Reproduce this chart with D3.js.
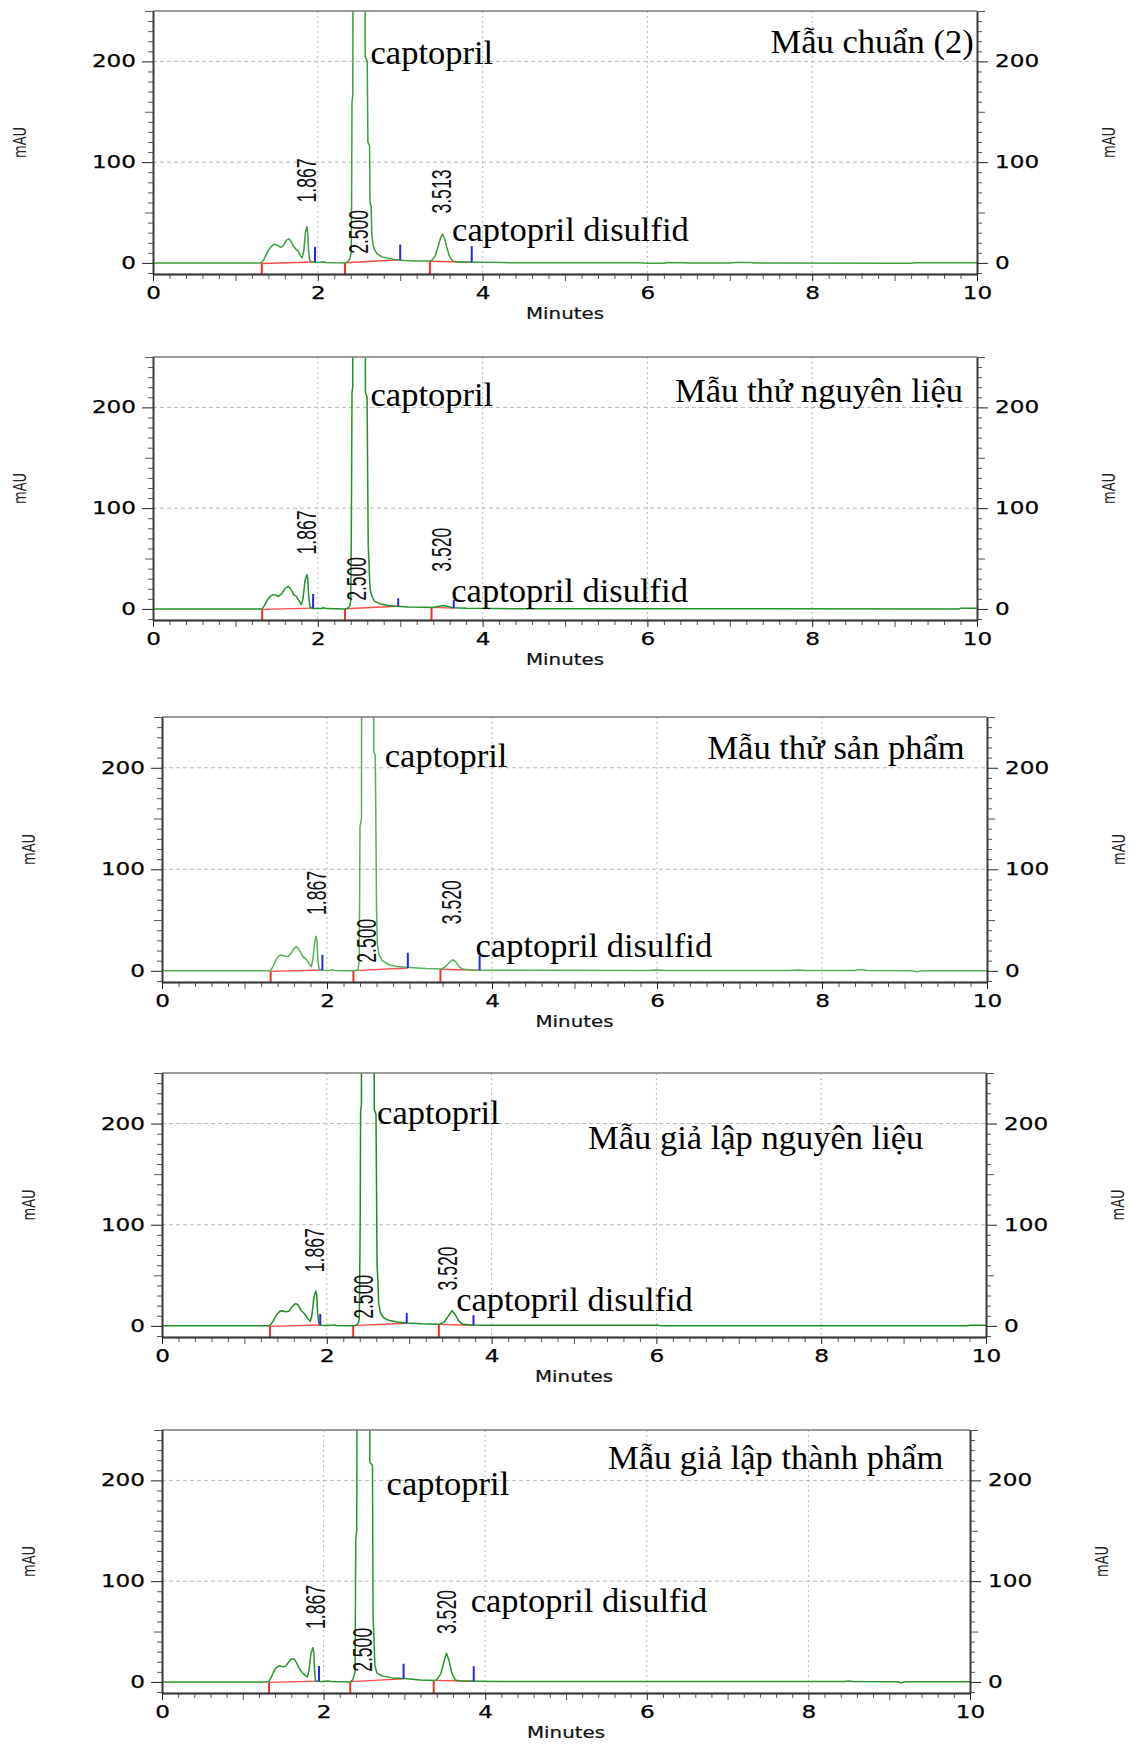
<!DOCTYPE html>
<html>
<head>
<meta charset="utf-8">
<script src="https://cdn.jsdelivr.net/npm/d3@7"></script>
<style>
  body { margin: 0; background: #fff; }
  svg { display: block; }
</style>
</head>
<body>
<svg id="chart" width="1133" height="1745"></svg>
<script>
// ---- data -------------------------------------------------------------
const minuteTicks = [0, 2, 4, 6, 8, 10];
const mauTicks = [0, 100, 200];
const panelTitles = [
  "Mẫu chuẩn (2)",
  "Mẫu thử nguyên liệu",
  "Mẫu thử sản phẩm",
  "Mẫu giả lập nguyên liệu",
  "Mẫu giả lập thành phẩm"
];
const compoundNames = ["captopril", "captopril disulfid"];
const retentionLabels = [
  ["1.867", "2.500", "3.513"],
  ["1.867", "2.500", "3.520"],
  ["1.867", "2.500", "3.520"],
  ["1.867", "2.500", "3.520"],
  ["1.867", "2.500", "3.520"]
];

// chromatogram traces: [minutes, mAU]
const traceStandard = [[0,0],[1.30,0],[1.32,0.5],[1.35,4],[1.39,11],[1.43,16],[1.47,18.5],[1.51,17.5],[1.55,15.5],[1.58,17],[1.62,22.5],[1.645,24],[1.67,22],[1.70,17],[1.73,14],[1.76,12],[1.79,7],[1.81,5],[1.83,12],[1.85,30],[1.867,36],[1.878,30],[1.888,12],[1.90,3],[1.925,0.8],[1.97,0.4],[2.03,0.6],[2.06,1.2],[2.10,0.4],[2.20,0.1],[2.33,0],[2.36,1],[2.39,4],[2.405,10],[2.41,60],[2.415,160],[2.425,166],[2.432,700],[2.500,1400],[2.568,700],[2.575,205],[2.600,200],[2.608,120],[2.628,116],[2.634,60],[2.648,56],[2.655,30],[2.67,18],[2.69,13],[2.72,9],[2.78,6],[2.86,4.5],[2.95,3.2],[3.05,2.5],[3.20,2],[3.33,1.8],[3.38,2.2],[3.42,6],[3.46,16],[3.49,25],[3.513,28.5],[3.54,24],[3.57,14],[3.60,6],[3.64,2],[3.70,1],[3.85,0.8],[4.0,0.6],[4.25,0.5],[4.3,0.2],[5.9,0.1],[6.0,-0.3],[6.2,-0.3],[6.25,0.3],[6.45,0.2],[6.5,-0.2],[7.0,-0.2],[7.05,0.4],[7.25,0.3],[7.3,-0.2],[9.2,-0.3],[9.25,0.2],[10,0.2]];
const traceRawSample = [[0,0],[1.30,0],[1.325,0.3],[1.35,3],[1.39,9],[1.43,13],[1.458,14.2],[1.49,13.5],[1.52,12.5],[1.56,15],[1.60,20],[1.64,22.4],[1.67,20],[1.71,14],[1.74,12.5],[1.78,7],[1.80,4.3],[1.82,10],[1.845,28],[1.867,34],[1.878,30],[1.89,12],[1.905,2],[1.93,0.5],[1.99,0.3],[2.04,0.5],[2.07,1.1],[2.11,0.3],[2.33,0],[2.37,1],[2.388,3],[2.40,8],[2.408,90],[2.415,215],[2.424,220],[2.432,700],[2.500,1400],[2.572,700],[2.578,215],[2.598,210],[2.612,62],[2.62,49],[2.628,30],[2.636,19],[2.66,12],[2.69,7.6],[2.75,5.2],[2.85,3.4],[2.95,2.6],[3.10,2],[3.30,1.6],[3.40,1.5],[3.46,2.3],[3.520,3.4],[3.58,2.4],[3.65,1.1],[3.80,0.7],[4.2,0.5],[4.3,0.2],[9.78,0],[9.80,0.6],[10,0.6]];
const traceProductSample = [[0,0],[1.30,0],[1.317,0.4],[1.35,5],[1.39,12],[1.42,15],[1.447,15.5],[1.49,14.5],[1.53,14],[1.57,18],[1.60,22],[1.63,23.8],[1.66,21],[1.71,14],[1.75,11],[1.79,6],[1.81,4],[1.83,12],[1.85,28],[1.867,34],[1.878,30],[1.89,10],[1.905,2],[1.93,0.5],[2.0,0.3],[2.05,0.6],[2.07,1.2],[2.10,0.4],[2.20,0.1],[2.32,0],[2.36,0.5],[2.376,1.5],[2.39,10],[2.396,80],[2.40,142],[2.418,150],[2.425,700],[2.500,1400],[2.562,700],[2.566,216],[2.585,212],[2.592,150],[2.60,63],[2.61,27],[2.63,16],[2.67,10],[2.75,6],[2.85,4.2],[3.0,3.2],[3.2,2.2],[3.375,1.8],[3.42,3],[3.47,7],[3.520,11],[3.56,9],[3.60,4],[3.65,1.5],[3.75,0.8],[4.0,0.6],[4.4,0.5],[5.9,0.4],[6.0,0.9],[6.1,0.4],[7.6,0.3],[7.7,0.8],[7.8,0.3],[8.4,0.3],[8.46,1.3],[8.55,0.3],[9.08,0.2],[9.15,-0.8],[9.22,0.2],[10,0.2]];
const traceSimRaw = [[0,0],[1.30,0],[1.31,0.3],[1.35,5],[1.39,11],[1.43,14.5],[1.46,15],[1.50,14],[1.54,14.5],[1.58,19],[1.62,22],[1.65,21],[1.69,15],[1.73,12],[1.77,7],[1.80,4.5],[1.82,11],[1.845,29],[1.867,34.5],[1.878,30],[1.89,11],[1.905,2],[1.93,0.5],[2.0,0.3],[2.05,0.5],[2.08,1],[2.12,0.3],[2.32,0],[2.36,1],[2.385,3],[2.395,8],[2.405,100],[2.41,212],[2.42,218],[2.43,700],[2.500,1400],[2.57,700],[2.576,214],[2.597,209],[2.61,60],[2.62,45],[2.63,22],[2.65,13],[2.69,8],[2.75,5.5],[2.85,3.8],[2.97,2.8],[3.15,2],[3.36,1.5],[3.42,3.5],[3.47,9],[3.520,15],[3.56,11],[3.60,5],[3.65,1.5],[3.75,0.8],[4.0,0.6],[5.5,0.5],[6.03,0.5],[6.06,0],[9.78,0],[9.80,0.6],[10,0.6]];
const traceSimProduct = [[0,0],[1.30,0],[1.324,0.4],[1.36,6],[1.40,13],[1.448,16],[1.50,15],[1.53,15.5],[1.57,20],[1.60,23],[1.64,22.5],[1.67,18],[1.70,13],[1.74,9],[1.78,6],[1.80,5],[1.82,12],[1.845,29],[1.867,34],[1.88,28],[1.89,8],[1.90,1],[1.93,0.4],[2.0,0.3],[2.05,0.8],[2.10,0.3],[2.33,0],[2.36,2],[2.375,6],[2.39,10],[2.398,142],[2.41,150],[2.425,700],[2.500,1400],[2.566,700],[2.572,218],[2.605,215],[2.612,65],[2.625,40],[2.635,16],[2.66,9],[2.72,6],[2.85,4],[3.0,3.3],[3.2,2],[3.363,1.5],[3.40,2],[3.45,8],[3.49,20],[3.520,28.5],[3.55,22],[3.59,8],[3.63,2],[3.70,0.8],[3.9,0.6],[4.2,0.5],[4.3,0.3],[8.45,0.3],[8.5,0.9],[8.55,0.3],[9.1,0.2],[9.15,-0.8],[9.2,0.2],[10,0.2]];
const traces = [traceStandard, traceRawSample, traceProductSample, traceSimRaw, traceSimProduct];

// integration baselines: [start min, start mAU, end min, end mAU]
const baselinesStandard = [[1.320,-0.6,1.966,0.9],[2.330,0.2,3.000,3.2],[3.360,1.7,3.868,0.6]];
const baselinesRawSample = [[1.325,-0.5,1.943,0.8],[2.330,0.2,2.976,2.6],[3.380,1.5,3.650,0.8]];
const baselinesProductSample = [[1.317,-0.5,1.944,0.8],[2.320,0.2,2.980,2.8],[3.375,1.6,3.850,0.6]];
const baselinesSimRaw = [[1.310,-0.5,1.920,0.8],[2.320,0.2,2.970,2.6],[3.360,1.5,3.780,0.6]];
const baselinesSimProduct = [[1.324,-0.5,1.943,0.8],[2.330,0.3,2.990,3.0],[3.363,1.5,3.858,0.6]];
const baselines = [baselinesStandard, baselinesRawSample, baselinesProductSample, baselinesSimRaw, baselinesSimProduct];

// ---- layout -----------------------------------------------------------
const layout = [
  { left: 153, right: 977, top: 11,   bottom: 274,  stroke: "#3c9f3c", endTick: [15, 15, 16],
    captopril: [2.64, 197.5], title: [9.96, 208], disulfid: [3.63, 22],
    rt: [[1.866, 60], [2.49, 9], [3.50, 49]] },
  { left: 153, right: 977, top: 357,  bottom: 620,  stroke: "#22922a", endTick: [14, 8, 8],
    captopril: [2.64, 201], title: [9.83, 205], disulfid: [3.62, 7],
    rt: [[1.867, 54], [2.47, 8], [3.50, 37]] },
  { left: 162, right: 987, top: 717,  bottom: 982,  stroke: "#56b256", endTick: [15, 15, 14],
    captopril: [2.70, 201], title: [9.73, 209], disulfid: [3.80, 14],
    rt: [[1.87, 55], [2.48, 8], [3.51, 46]] },
  { left: 162, right: 986, top: 1073, bottom: 1337, stroke: "#1e8c24", endTick: [11, 10, 10],
    captopril: [2.61, 200], title: [9.24, 175], disulfid: [3.57, 15],
    rt: [[1.85, 53], [2.445, 7], [3.47, 35]] },
  { left: 162, right: 970, top: 1430, bottom: 1693, stroke: "#2c962c", endTick: [15, 15, 15],
    captopril: [2.78, 185], title: [9.67, 211], disulfid: [3.82, 69.5],
    rt: [[1.90, 52.5], [2.48, 10], [3.52, 47.5]] }
];

const axisFont = "'DejaVu Sans', Verdana, sans-serif";
const serifFont = "'Liberation Serif', 'Times New Roman', serif";
const svg = d3.select("#chart");
const defs = svg.append("defs");

// widen tick labels the way the instrument printout renders them
function widen(sel, factor) {
  sel.selectAll("text").each(function () {
    const w = this.getComputedTextLength();
    d3.select(this).attr("textLength", w * factor).attr("lengthAdjust", "spacingAndGlyphs");
  });
}

function styleAxis(g) {
  g.select(".domain").attr("stroke", "#3a3a3a").attr("stroke-width", 1.4);
  g.selectAll(".tick line").attr("stroke", "#555").attr("stroke-width", 1);
  g.selectAll(".tick text")
    .attr("fill", "#000")
    .attr("font-family", axisFont)
    .attr("font-size", 17)
    .attr("stroke", "#000").attr("stroke-width", 0.25);
}

const yMinor = d3.range(-10, 251, 10).filter(v => v % 50 !== 0);
const yMedium = d3.range(-10, 251, 10).filter(v => v % 50 === 0 && v % 100 !== 0);
const xMinor = d3.range(0, 51).map(i => i / 5).filter(v => Math.abs(v - Math.round(v)) > 1e-6);
const xOdd = [1, 3, 5, 7, 9];

traces.forEach((trace, i) => {
  const L = layout[i];
  const x = d3.scaleLinear().domain([0, 10]).range([L.left, L.right]);
  const y = d3.scaleLinear().domain([-11, 250]).range([L.bottom, L.top]);
  const g = svg.append("g").attr("class", "panel");

  defs.append("clipPath").attr("id", "plot-clip-" + i)
    .append("rect")
    .attr("x", L.left).attr("y", L.top)
    .attr("width", L.right - L.left).attr("height", L.bottom - L.top);

  // grid
  g.append("g").selectAll("line").data([100, 200]).join("line")
    .attr("x1", L.left).attr("x2", L.right)
    .attr("y1", d => y(d)).attr("y2", d => y(d))
    .attr("stroke", "#b8b8b8").attr("stroke-width", 1).attr("stroke-dasharray", "4,3");
  g.append("g").selectAll("line").data([2, 4, 6, 8]).join("line")
    .attr("x1", d => x(d)).attr("x2", d => x(d))
    .attr("y1", L.top).attr("y2", L.bottom)
    .attr("stroke", "#b8b8b8").attr("stroke-width", 1).attr("stroke-dasharray", "2,3");

  // integration baselines (red) with start markers, end markers (blue)
  const marks = g.append("g").attr("clip-path", `url(#plot-clip-${i})`);
  marks.selectAll("line.base").data(baselines[i]).join("line").attr("class", "base")
    .attr("x1", d => x(d[0])).attr("y1", d => y(d[1]))
    .attr("x2", d => x(d[2])).attr("y2", d => y(d[3]))
    .attr("stroke", "#ff4a4a").attr("stroke-width", 1.4);
  marks.selectAll("line.start").data(baselines[i]).join("line").attr("class", "start")
    .attr("x1", d => x(d[0])).attr("y1", d => y(d[1]))
    .attr("x2", d => x(d[0])).attr("y2", L.bottom)
    .attr("stroke", "#ff2a2a").attr("stroke-width", 2);

  // trace
  const line = d3.line().x(d => x(d[0])).y(d => y(d[1]));
  marks.append("path").datum(trace)
    .attr("d", line)
    .attr("fill", "none")
    .attr("stroke", L.stroke)
    .attr("stroke-width", 1.5)
    .attr("stroke-linejoin", "round");

  marks.selectAll("line.end").data(baselines[i]).join("line").attr("class", "end")
    .attr("x1", d => x(d[2])).attr("y1", d => y(d[3]))
    .attr("x2", d => x(d[2])).attr("y2", (d, k) => y(d[3] + L.endTick[k]))
    .attr("stroke", "#2424ff").attr("stroke-width", 2);

  // frame top
  g.append("line")
    .attr("x1", L.left).attr("x2", L.right)
    .attr("y1", L.top).attr("y2", L.top)
    .attr("stroke", "#7a7a7a").attr("stroke-width", 1.4);

  // left axis
  const leftMinor = g.append("g").attr("transform", `translate(${L.left},0)`)
    .call(d3.axisLeft(y).tickValues(yMinor).tickSize(5).tickSizeOuter(0).tickFormat(""));
  styleAxis(leftMinor);
  const leftMed = g.append("g").attr("transform", `translate(${L.left},0)`)
    .call(d3.axisLeft(y).tickValues(yMedium).tickSize(8).tickSizeOuter(0).tickFormat(""));
  styleAxis(leftMed);
  const leftMajor = g.append("g").attr("transform", `translate(${L.left},0)`)
    .call(d3.axisLeft(y).tickValues(mauTicks).tickSize(11).tickPadding(6).tickSizeOuter(0).tickFormat(d3.format("d")));
  styleAxis(leftMajor);
  leftMajor.selectAll(".tick line").attr("stroke", "#222");
  widen(leftMajor, 1.36);

  // right axis
  const rightMinor = g.append("g").attr("transform", `translate(${L.right},0)`)
    .call(d3.axisRight(y).tickValues(yMinor).tickSize(5).tickSizeOuter(0).tickFormat(""));
  styleAxis(rightMinor);
  const rightMed = g.append("g").attr("transform", `translate(${L.right},0)`)
    .call(d3.axisRight(y).tickValues(yMedium).tickSize(8).tickSizeOuter(0).tickFormat(""));
  styleAxis(rightMed);
  const rightMajor = g.append("g").attr("transform", `translate(${L.right},0)`)
    .call(d3.axisRight(y).tickValues(mauTicks).tickSize(11).tickPadding(7).tickSizeOuter(0).tickFormat(d3.format("d")));
  styleAxis(rightMajor);
  rightMajor.selectAll(".tick line").attr("stroke", "#222");
  widen(rightMajor, 1.36);

  // bottom axis
  const bottomMinor = g.append("g").attr("transform", `translate(0,${L.bottom})`)
    .call(d3.axisBottom(x).tickValues(xMinor).tickSize(5).tickSizeOuter(0).tickFormat(""));
  styleAxis(bottomMinor);
  const bottomOdd = g.append("g").attr("transform", `translate(0,${L.bottom})`)
    .call(d3.axisBottom(x).tickValues(xOdd).tickSize(7).tickSizeOuter(0).tickFormat(""));
  styleAxis(bottomOdd);
  const bottomMajor = g.append("g").attr("transform", `translate(0,${L.bottom})`)
    .call(d3.axisBottom(x).tickValues(minuteTicks).tickSize(7).tickPadding(6).tickSizeOuter(0).tickFormat(d3.format("d")));
  styleAxis(bottomMajor);
  bottomMajor.selectAll(".tick line").attr("stroke", "#222");
  widen(bottomMajor, 1.36);

  // axis titles
  g.append("text")
    .attr("x", (L.left + L.right) / 2).attr("y", L.bottom + 40)
    .attr("text-anchor", "middle").attr("dominant-baseline", "central")
    .attr("font-family", axisFont).attr("font-size", 15).attr("fill", "#111")
    .attr("stroke", "#111").attr("stroke-width", 0.2)
    .attr("textLength", 78).attr("lengthAdjust", "spacingAndGlyphs")
    .text("Minutes");
  [L.left - 133, L.right + 132].forEach(cx => {
    g.append("text")
      .attr("transform", `translate(${cx},${(L.top + L.bottom) / 2}) rotate(-90) scale(1,1.3)`)
      .attr("text-anchor", "middle").attr("dominant-baseline", "central")
      .attr("font-family", axisFont).attr("font-size", 13).attr("fill", "#222")
      .text("mAU");
  });

  // retention time labels
  g.append("g").selectAll("text").data(L.rt).join("text")
    .attr("transform", d => `translate(${x(d[0])},${y(d[1])}) rotate(-90)`)
    .attr("text-anchor", "start").attr("dominant-baseline", "central")
    .attr("font-family", "'Liberation Sans', Arial, sans-serif")
    .attr("font-size", 28).attr("fill", "#111")
    .attr("textLength", 44).attr("lengthAdjust", "spacingAndGlyphs")
    .text((d, k) => retentionLabels[i][k]);

  // compound and sample annotations
  g.append("text")
    .attr("x", x(L.captopril[0])).attr("y", y(L.captopril[1]))
    .attr("font-family", serifFont).attr("font-size", 34.5).attr("fill", "#000")
    .text(compoundNames[0]);
  g.append("text")
    .attr("x", x(L.disulfid[0])).attr("y", y(L.disulfid[1]))
    .attr("font-family", serifFont).attr("font-size", 34.5).attr("fill", "#000")
    .text(compoundNames[1]);
  g.append("text")
    .attr("x", x(L.title[0])).attr("y", y(L.title[1]))
    .attr("text-anchor", "end")
    .attr("font-family", serifFont).attr("font-size", 34.5).attr("fill", "#000")
    .text(panelTitles[i]);
});
</script>
</body>
</html>
